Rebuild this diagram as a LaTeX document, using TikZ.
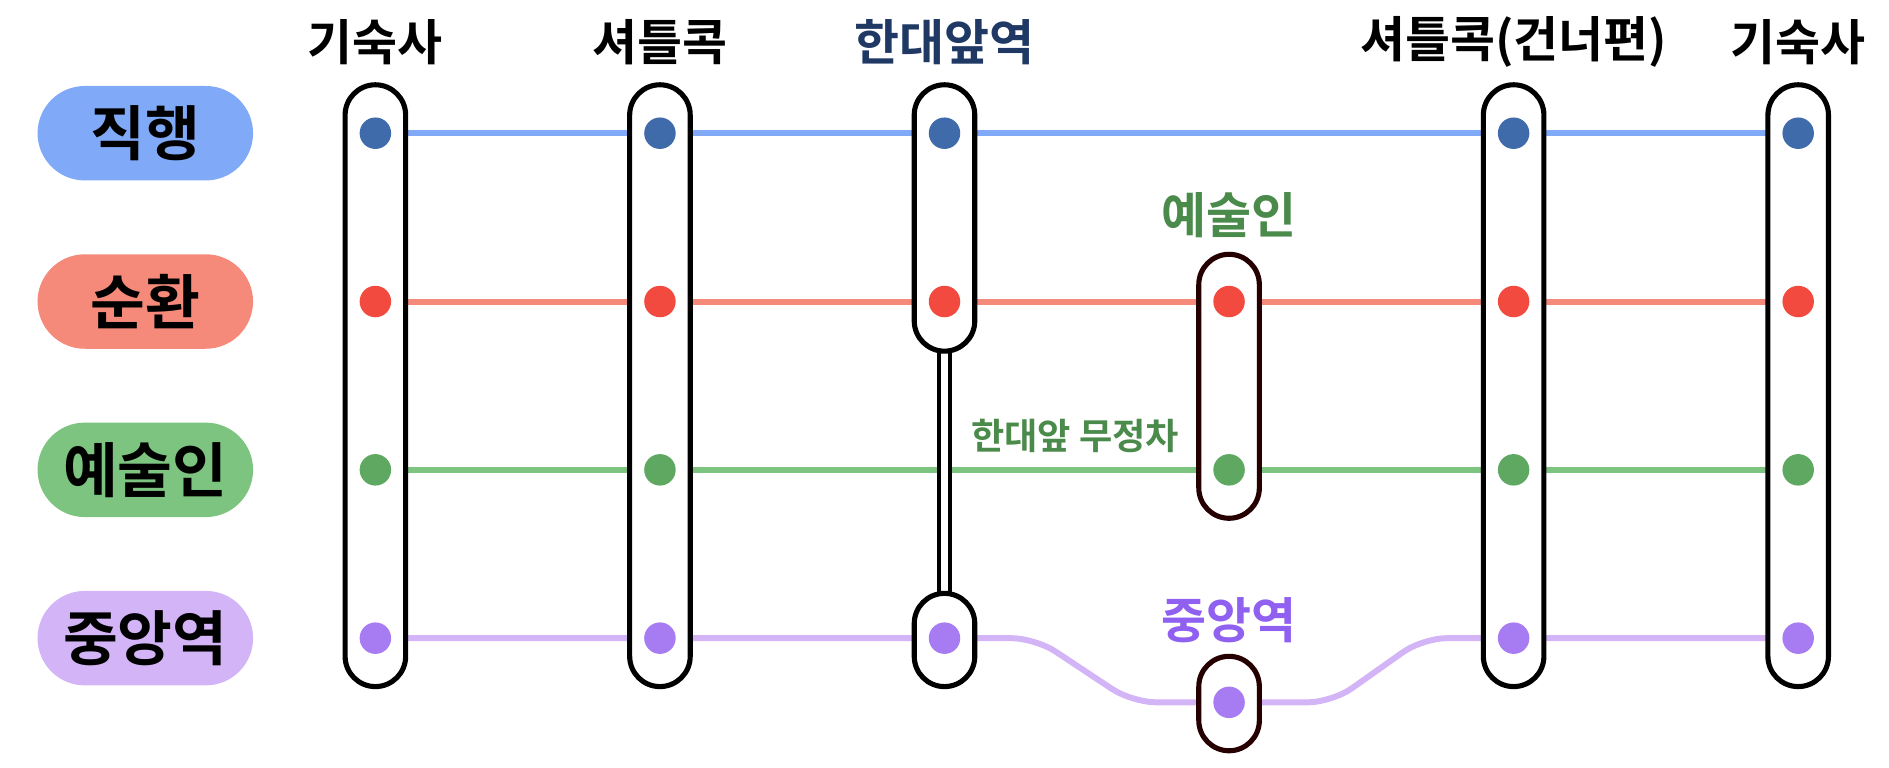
\documentclass[tikz,border=0pt]{standalone}
\usepackage{fontspec}
\setmainfont{Noto Sans CJK KR}[BoldFont={Noto Sans CJK KR Bold}]
\usetikzlibrary{positioning}
\definecolor{blueL}{HTML}{80AAF8}\definecolor{blueD}{HTML}{3F6BAA}
\definecolor{redL}{HTML}{F58A7A}\definecolor{redD}{HTML}{F24A3E}
\definecolor{greenL}{HTML}{7CC47F}\definecolor{greenD}{HTML}{5FA862}
\definecolor{purL}{HTML}{D3B4F7}\definecolor{purD}{HTML}{A77BF2}
\definecolor{navy}{HTML}{1F3864}\definecolor{grT}{HTML}{4A8A4A}\definecolor{puT}{HTML}{9060F0}
\tikzstyle{pillNode} = [rectangle, rounded corners=3.9mm, minimum width=17.8mm, minimum height=7.8mm, text centered, font=\bfseries\fontsize{14}{17}\selectfont]
\tikzstyle{capNode} = [rectangle, rounded corners=2.5mm, minimum width=5mm, draw=black, line width=1.2pt, fill=white, inner sep=0]
\tikzstyle{dotNode} = [circle, minimum size=2.6mm, inner sep=0]
\tikzstyle{titleNode} = [font=\bfseries\fontsize{11.5}{14}\selectfont]
\tikzstyle{lineS} = [line width=1.4pt]
\begin{document}
\begin{tikzpicture}[x=0.1mm, y=-0.1mm]
    \useasboundingbox (0,0) rectangle (1560,634);
    % route pills
    \node (pdir) [pillNode, fill=blueL] at (120,110) {직행};
    \node (pcir) [pillNode, fill=redL] at (120,249) {순환};
    \node (part) [pillNode, fill=greenL] at (120,388) {예술인};
    \node (pcen) [pillNode, fill=purL] at (120,527) {중앙역};
    % titles
    \node (t1) [titleNode] at (310,35) {기숙사};
    \node (t2) [titleNode] at (545,35) {셔틀콕};
    \node (t3) [titleNode, text=navy] at (780,35) {한대앞역};
    \node (t5) [titleNode] at (1250,35) {셔틀콕(건너편)};
    \node (t6) [titleNode] at (1485,35) {기숙사};
    \node (tart) [titleNode, text=grT] at (1015,178) {예술인};
    \node (tcen) [titleNode, text=puT] at (1015,512) {중앙역};
    \node (tskip) [text=grT, font=\bfseries\fontsize{8.5}{10}\selectfont] at (888,360) {한대앞 무정차};
    % route lines
    \coordinate (c1) at (855,527); \coordinate (c2) at (935,580);
    \coordinate (c3) at (1100,580); \coordinate (c4) at (1175,527);
    \draw [lineS, blueL] (310,110) -- (1485,110);
    \draw [lineS, redL] (310,249) -- (1485,249);
    \draw [lineS, greenL] (310,388) -- (1485,388);
    \draw [lineS, purL, rounded corners=2mm] (310,527) -- (c1) -- (c2) -- (c3) -- (c4) -- (1485,527);
    % station capsules
    \foreach \x/\n in {310/s1, 545/s2, 1250/s5, 1485/s6}
        \node (\n) [capNode, minimum height=49.7mm] at (\x,318.5) {};
    \draw [line width=1pt, double=white, double distance=1.6pt] (780,280) -- (780,500);
    \node (s3a) [capNode, minimum height=22mm] at (780,180) {};
    \node (s3b) [capNode, minimum height=7.7mm] at (780,528.5) {};
    \node (s4a) [capNode, minimum height=21.8mm, draw=black!85!red] at (1015,319) {};
    \node (s4b) [capNode, minimum height=7.8mm, draw=black!85!red] at (1015,581) {};
    % stops
    \foreach \x in {310,545,780,1250,1485} {
        \node [dotNode, fill=blueD] at (\x,110) {};
        \node [dotNode, fill=redD] at (\x,249) {};
        \node [dotNode, fill=purD] at (\x,527) {};
    }
    \foreach \x in {310,545,1250,1485}
        \node [dotNode, fill=greenD] at (\x,388) {};
    \node [dotNode, fill=redD] at (1015,249) {};
    \node [dotNode, fill=greenD] at (1015,388) {};
    \node [dotNode, fill=purD] at (1015,580) {};
\end{tikzpicture}
\end{document}
